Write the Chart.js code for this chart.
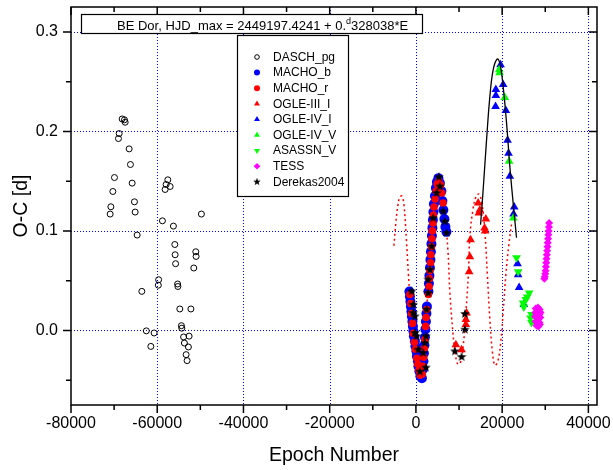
<!DOCTYPE html>
<html><head><meta charset="utf-8">
<script src="https://cdn.jsdelivr.net/npm/chart.js@4.4.1/dist/chart.umd.min.js"></script>
<style>html,body{margin:0;padding:0;background:#fff}#wrap{width:613px;height:470px;position:relative}</style>
</head><body><div id="wrap"><canvas id="c"></canvas></div>
<script>
// ---------- data (epoch E, O-C in days) ----------
const daschPg = [[-68135,0.2125],[-67601,0.2116],[-67438,0.2092],[-68830,0.1978],[-68992,0.1928],[-66512,0.1824],[-66211,0.1667],[-69919,0.1536],[-65817,0.1480],[-70290,0.1396],[-65284,0.1292],[-70754,0.1242],[-65121,0.1189],[-70916,0.1169],[-64658,0.0958],[-57543,0.1513],[-57938,0.1466],[-57011,0.1446],[-58169,0.1416],[-49757,0.1169],[-58795,0.1101],[-56246,0.1048],[-55921,0.0863],[-55852,0.0760],[-51055,0.0790],[-50985,0.0743],[-55736,0.0670],[-51519,0.0627],[-59676,0.0509],[-59746,0.0454],[-55272,0.0466],[-55203,0.0441],[-63569,0.0392],[-54762,0.0215],[-52190,0.0215],[-54391,0.0047],[-54299,0.0022],[-62526,-0.0005],[-60719,-0.0026],[-53882,-0.0066],[-52607,-0.0058],[-53697,-0.0127],[-61483,-0.0161],[-52769,-0.0167],[-53303,-0.0244],[-53071,-0.0304]];
const machoB = [[-1506,0.039],[-1390,0.034],[-1275,0.029],[-1159,0.024],[-1043,0.019],[-927,0.014],[-811,0.009],[-695,0.004],[-579,-0.001],[-464,-0.006],[-232,-0.011],[-116,-0.016],[116,-0.021],[232,-0.026],[464,-0.031],[579,-0.036],[811,-0.041],[1043,-0.046],[1391,-0.048],[1622,-0.039],[1738,-0.031],[1854,-0.023],[1970,-0.015],[2086,-0.007],[2202,0.001],[2318,0.009],[2433,0.017],[2549,0.024],[2897,0.039],[3013,0.047],[3129,0.055],[3245,0.063],[3360,0.071],[3476,0.079],[3592,0.087],[3708,0.095],[3824,0.103],[3940,0.111],[4056,0.119],[4172,0.127],[4403,0.135],[4635,0.143],[4867,0.149],[5214,0.153],[5562,0.148],[5910,0.140],[6142,0.130],[6373,0.121],[6605,0.112],[6837,0.104],[7068,0.099]];
const machoR = [[-1400,0.036],[-1200,0.027],[-1000,0.017],[-800,0.007],[-600,-0.003],[-350,-0.012],[-100,-0.019],[200,-0.028],[450,-0.034],[700,-0.040],[1000,-0.045],[1450,-0.044],[1650,-0.036],[1800,-0.027],[1950,-0.018],[2100,-0.009],[2250,0.004],[2350,0.013],[2500,0.021],[2900,0.036],[3050,0.044],[3150,0.052],[3250,0.060],[3400,0.068],[3450,0.076],[3600,0.084],[3700,0.092],[3800,0.100],[3950,0.108],[4050,0.116],[4200,0.124],[4450,0.132],[4700,0.140],[4950,0.147],[5300,0.150],[5700,0.146],[6000,0.138],[6300,0.128]];
const ogle3I = [[14438,0.128],[14832,0.121],[14600,0.118],[16223,0.112],[15921,0.103],[16060,0.100],[12677,0.091],[12514,0.074],[12352,0.059],[11750,0.0175],[11588,0.011],[11588,0.006],[9270,-0.0144],[10591,-0.0194]];
const ogle4I = [[19630,0.267],[18540,0.242],[18540,0.236],[20232,0.247],[18470,0.225],[20858,0.221],[21251,0.191],[21483,0.178],[21785,0.155],[22800,0.124],[22650,0.117],[23569,0.067],[23708,0.056],[23940,0.043],[25029,0.026]];
const ogle4V = [[19305,0.262],[19400,0.259],[20626,0.234],[21622,0.170],[22600,0.113]];
const asassnV = [[23337,0.073],[23708,0.059],[26257,0.0375],[25794,0.0335],[25492,0.031],[24867,0.0275],[25029,0.0235],[26813,0.016],[26581,0.0125],[26813,0.008]];
const tess = [[30900,0.108],[30850,0.104],[30780,0.100],[30720,0.096],[30650,0.092],[30580,0.088],[30520,0.084],[30450,0.080],[30380,0.076],[30300,0.072],[30230,0.068],[30150,0.064],[30080,0.060],[30000,0.057],[29900,0.054],[29800,0.052],
  [27800,0.022],[28300,0.023],[28700,0.021],[27700,0.018],[28200,0.019],[28650,0.016],[28900,0.018],[27650,0.014],[28050,0.013],[28500,0.012],[28850,0.013],[27750,0.009],[28200,0.008],[28650,0.008],[27950,0.005],[28400,0.004],[28750,0.006]];
const derekas = [[5330,0.154],[5562,0.1446],[4797,0.138],[6327,0.1195],[6721,0.1094],[7115,0.0978],[4009,0.1128],[3638,0.0843],[3245,0.0609],[2851,0.0509],[2480,0.0208],[2318,-0.006],[1692,-0.0227],[-997,0.0392],[-626,0.0175],[-232,-0.0026],[533,-0.0194],[-626,0.0258],[-232,0.0141],[162,-0.006],[2086,-0.0127],[2851,0.0375],[927,-0.0415],[2318,-0.0374],[11356,0.0165],[11356,0.0007],[9038,-0.0211],[10591,-0.0267]];
const fitCurve = [[14994,0.1061],[15597,0.1413],[16385,0.1915],[17150,0.2349],[17914,0.2618],[18842,0.2728],[19467,0.2685],[20232,0.2450],[21020,0.2085],[21785,0.1647],[22549,0.1282],[23337,0.0931]];
const modelCurve = [[-5099,0.085],[-4635,0.109],[-4172,0.126],[-3708,0.134],[-3245,0.135],[-2781,0.126],[-2202,0.091],[-1738,0.056],[-1390,0.036],[-695,0.006],[0,-0.019],[695,-0.039],[1159,-0.047],[1622,-0.039],[2086,-0.009],[2549,0.026],[3245,0.066],[3940,0.111],[4635,0.141],[5330,0.153],[6026,0.145],[6721,0.116],[7416,0.081],[7880,0.038],[8575,-0.002],[9154,-0.024],[9734,-0.034],[10429,-0.031],[11008,-0.014],[11588,0.018],[12167,0.056],[12514,0.094],[13210,0.121],[13905,0.134],[14600,0.137],[15296,0.128],[15991,0.099],[16570,0.056],[17150,0.011],[17729,-0.021],[18309,-0.035],[19004,-0.031],[19699,-0.011],[20278,0.021],[20858,0.056],[21553,0.086],[22248,0.109]];
const xTickLabels = [-80000,-60000,-40000,-20000,0,20000,40000];
const xMinorTicks = [-70000,-50000,-30000,-10000,10000,30000];
const xGridLines = [-60000,-40000,-20000,0,20000,40000];
const yTickLabels = [0,0.1,0.2,0.3];
const yMinorTicks = [-0.05,0.05,0.15,0.25];
const yGridLines = [0,0.1,0.2,0.3];
const seriesNames = ['DASCH_pg','MACHO_b','MACHO_r','OGLE-III_I','OGLE-IV_I','OGLE-IV_V','ASASSN_V','TESS','Derekas2004'];
const titleParts = ['BE Dor, HJD_max = 2449197.4241 + 0.','d','328038*E'];

const FONT = '"Liberation Sans", Arial, sans-serif';
Chart.defaults.font.family = FONT;
const pts = a => a.map(p => ({x:p[0], y:p[1]}));

function makeStar(size){
  const c = document.createElement('canvas'); c.width = size; c.height = size;
  const g = c.getContext('2d'); const cx=size/2, cy=size/2, R=size/2, r=R*0.42;
  g.beginPath();
  for (let i=0;i<10;i++){ const a=-Math.PI/2+i*Math.PI/5; const rr=i%2?r:R; g.lineTo(cx+rr*Math.cos(a), cy+rr*Math.sin(a)); }
  g.closePath(); g.fillStyle='#000'; g.fill(); return c;
}
const starImg = makeStar(10);
const starSmall = makeStar(8);

const BLUE='#0000ff', RED='#ff0000', GREEN='#00ff00', MAG='#ff00ff';

const datasets = [
  {label:'fit', data:pts(fitCurve), showLine:true, borderColor:'#000', borderWidth:1.3, pointRadius:0, tension:0.4, order:0, fill:false},
  {label:'Derekas2004', data:pts(derekas), pointStyle:starImg, pointRadius:5, order:1},
  {label:'TESS', data:pts(tess), pointStyle:'rectRot', pointRadius:4, backgroundColor:MAG, borderColor:MAG, borderWidth:0, order:2},
  {label:'ASASSN_V', data:pts(asassnV), pointStyle:'triangle', rotation:180, pointRadius:5, backgroundColor:GREEN, borderColor:GREEN, borderWidth:0, order:3},
  {label:'OGLE-IV_V', data:pts(ogle4V), pointStyle:'triangle', pointRadius:5, backgroundColor:GREEN, borderColor:GREEN, borderWidth:0, order:4},
  {label:'OGLE-IV_I', data:pts(ogle4I), pointStyle:'triangle', pointRadius:5, backgroundColor:BLUE, borderColor:BLUE, borderWidth:0, order:5},
  {label:'OGLE-III_I', data:pts(ogle3I), pointStyle:'triangle', pointRadius:5, backgroundColor:RED, borderColor:RED, borderWidth:0, order:6},
  {label:'MACHO_r', data:pts(machoR), pointStyle:'circle', pointRadius:3.8, backgroundColor:RED, borderColor:RED, borderWidth:0, order:7},
  {label:'MACHO_b', data:pts(machoB), pointStyle:'circle', pointRadius:5, backgroundColor:BLUE, borderColor:BLUE, borderWidth:0, order:8},
  {label:'DASCH_pg', data:pts(daschPg), pointStyle:'circle', pointRadius:3, backgroundColor:'rgba(0,0,0,0)', borderColor:'#000', borderWidth:1, order:9},
  {label:'model', data:pts(modelCurve), showLine:true, borderColor:RED, borderWidth:1.5, borderDash:[2,3], pointRadius:0, tension:0.4, order:10, fill:false}
];

const legendSymbols = [
  {style:'circle', r:2.3, fill:null, stroke:'#000'},
  {style:'circle', r:3, fill:BLUE},
  {style:'circle', r:3, fill:RED},
  {style:'triangle', r:3.4, fill:RED},
  {style:'triangle', r:3.4, fill:BLUE},
  {style:'triangle', r:3.4, fill:GREEN},
  {style:'triangleDown', r:3.4, fill:GREEN},
  {style:'diamond', r:3.3, fill:MAG},
  {style:'star'}
];

function drawSym(ctx, s, x, y){
  ctx.save();
  ctx.beginPath();
  if (s.style==='circle'){ ctx.arc(x,y,s.r,0,Math.PI*2); }
  else if (s.style==='triangle'){ for(let i=0;i<3;i++){const a=-Math.PI/2+i*2*Math.PI/3; ctx.lineTo(x+s.r*Math.cos(a), y+s.r*Math.sin(a));} ctx.closePath(); }
  else if (s.style==='triangleDown'){ for(let i=0;i<3;i++){const a=Math.PI/2+i*2*Math.PI/3; ctx.lineTo(x+s.r*Math.cos(a), y+s.r*Math.sin(a));} ctx.closePath(); }
  else if (s.style==='diamond'){ ctx.moveTo(x,y-s.r); ctx.lineTo(x+s.r,y); ctx.lineTo(x,y+s.r); ctx.lineTo(x-s.r,y); ctx.closePath(); }
  else if (s.style==='star'){ ctx.drawImage(starSmall, x-4, y-4, 8, 8); ctx.restore(); return; }
  if (s.fill){ ctx.fillStyle=s.fill; ctx.fill(); }
  if (s.stroke){ ctx.strokeStyle=s.stroke; ctx.lineWidth=1; ctx.stroke(); }
  ctx.restore();
}

const framePlugin = {
  id:'frame',
  beforeDatasetsDraw(chart){
    const {ctx, chartArea:a, scales:{x,y}} = chart;
    ctx.save();
    ctx.strokeStyle=BLUE; ctx.lineWidth=1; ctx.setLineDash([1,2]);
    for (const v of xGridLines){ const px=Math.round(x.getPixelForValue(v))+0.5; ctx.beginPath(); ctx.moveTo(px,a.top); ctx.lineTo(px,a.bottom); ctx.stroke(); }
    for (const v of yGridLines){ const py=Math.round(y.getPixelForValue(v))+0.5; ctx.beginPath(); ctx.moveTo(a.left,py); ctx.lineTo(a.right,py); ctx.stroke(); }
    ctx.restore();
  },
  afterDatasetsDraw(chart){
    const {ctx, chartArea:a, scales:{x,y}} = chart;
    ctx.save();
    ctx.strokeStyle='#000'; ctx.lineWidth=1.5; ctx.setLineDash([]);
    ctx.strokeRect(a.left, a.top, a.right-a.left, a.bottom-a.top);
    ctx.beginPath();
    const tk = (vals, len) => {
      for (const v of vals){ const px=x.getPixelForValue(v);
        ctx.moveTo(px,a.bottom); ctx.lineTo(px,a.bottom+len);
        ctx.moveTo(px,a.top); ctx.lineTo(px,a.top+len); }
    };
    tk(xTickLabels, 8); tk(xMinorTicks, 5);
    const tky = (vals, len) => {
      for (const v of vals){ const py=y.getPixelForValue(v);
        ctx.moveTo(a.left,py); ctx.lineTo(a.left-len,py);
        ctx.moveTo(a.right,py); ctx.lineTo(a.right-len,py); }
    };
    tky(yTickLabels, 8); tky(yMinorTicks, 5);
    ctx.stroke();

    // title box
    ctx.lineWidth=1.2;
    ctx.fillStyle='#fff';
    ctx.fillRect(81.5,14.5,341,19); ctx.strokeRect(81.5,14.5,341,19);
    ctx.fillStyle='#000'; ctx.textBaseline='alphabetic'; ctx.textAlign='left';
    ctx.font='13px '+FONT;
    let tx=117; const ty=29.5;
    ctx.fillText(titleParts[0], tx, ty); tx += ctx.measureText(titleParts[0]).width;
    ctx.font='9px '+FONT; ctx.fillText(titleParts[1], tx, ty-6); tx += ctx.measureText(titleParts[1]).width;
    ctx.font='13px '+FONT; ctx.fillText(titleParts[2], tx, ty);

    // legend
    ctx.fillStyle='#fff'; ctx.fillRect(237.5,35.5,111,161);
    ctx.lineWidth=1.2; ctx.strokeRect(237.5,35.5,111,161);
    ctx.font='12px '+FONT; ctx.textBaseline='middle';
    seriesNames.forEach((n,i)=>{
      const ly = 57 + i*15.6;
      drawSym(ctx, legendSymbols[i], 257, ly);
      ctx.fillStyle='#000'; ctx.fillText(n, 273, ly+0.5);
    });
    ctx.restore();
  }
};

new Chart(document.getElementById('c'), {
  type:'scatter',
  data:{datasets},
  options:{
    responsive:true, maintainAspectRatio:false, animation:false,
    layout:{padding:{left:0,right:16,top:7,bottom:0}},
    plugins:{legend:{display:false}, tooltip:{enabled:false}, title:{display:false}},
    scales:{
      x:{type:'linear', min:-80000, max:42000,
        grid:{display:false, drawTicks:false}, border:{display:false},
        afterBuildTicks:s=>{s.ticks=xTickLabels.map(v=>({value:v}));},
        afterFit:s=>{s.height=65; s.paddingLeft=0; s.paddingRight=0;},
        ticks:{autoSkip:false, maxRotation:0, minRotation:0, padding:9, color:'#000', font:{size:16}, callback:v=>String(v)},
        title:{display:true, text:'Epoch Number', color:'#000', font:{size:19.5}, padding:{top:0,bottom:3}}
      },
      y:{type:'linear', min:-0.075, max:0.325,
        grid:{display:false, drawTicks:false}, border:{display:false},
        afterBuildTicks:s=>{s.ticks=yTickLabels.map(v=>({value:v}));},
        afterFit:s=>{s.width=71; s.paddingTop=0; s.paddingBottom=0;},
        ticks:{autoSkip:false, padding:13, color:'#000', font:{size:16}, callback:v=>Number(v).toFixed(1)},
        title:{display:true, text:'O-C [d]', color:'#000', font:{size:19.5}, padding:{top:10,bottom:0}}
      }
    }
  },
  plugins:[framePlugin]
});
</script></body></html>
